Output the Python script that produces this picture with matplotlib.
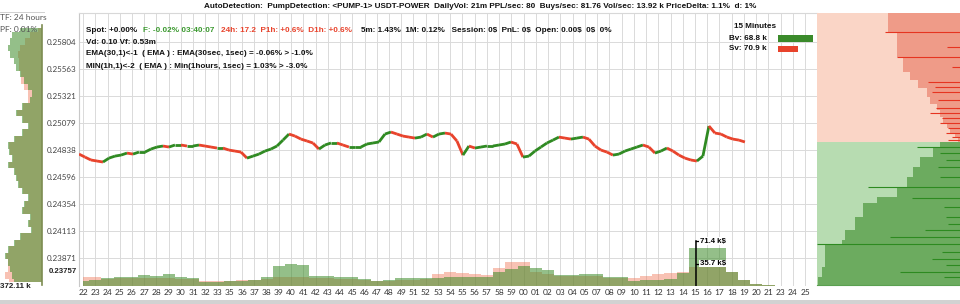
import matplotlib.pyplot as plt
import numpy as np
from matplotlib.collections import LineCollection

# ------------------------------------------------------------------------------
#   Data
# ------------------------------------------------------------------------------

minute_labels = [
    "22", "23", "24", "25", "26", "27", "28", "29", "30", "31", "32", "33",
    "35", "36", "37", "38", "39", "40", "41", "42", "43", "44", "45", "46",
    "47", "48", "49", "51", "52", "53", "54", "55", "56", "57", "58", "59",
    "00", "01", "02", "03", "04", "05", "07", "08", "09", "10", "11", "12",
    "13", "14", "15", "16", "17", "18", "19", "20", "21", "23", "24", "25",
]

# Last price, sampled evenly from the first candle (x=-0.33) to the last (x=54.08)
price = [
    0.24802, 0.24775, 0.24749, 0.24740, 0.24731, 0.24766, 0.24784, 0.24793,
    0.24811, 0.24802, 0.24820, 0.24820, 0.24847, 0.24865, 0.24874, 0.24865,
    0.24883, 0.24883, 0.24874, 0.24874, 0.24883, 0.24874, 0.24865, 0.24856,
    0.24856, 0.24838, 0.24829, 0.24820, 0.24766, 0.24784, 0.24802, 0.24829,
    0.24847, 0.24874, 0.24927, 0.24981, 0.24963, 0.24936, 0.24919, 0.24901,
    0.24847, 0.24883, 0.24901, 0.24901, 0.24883, 0.24865, 0.24865, 0.24865,
    0.24892, 0.24901, 0.24910, 0.24981, 0.24999, 0.24981, 0.24963, 0.24954,
    0.24945, 0.24954, 0.24981, 0.24954, 0.24981, 0.24990, 0.24981, 0.24919,
    0.24793, 0.24874, 0.24856, 0.24865, 0.24874, 0.24874, 0.24883, 0.24892,
    0.24910, 0.24892, 0.24775, 0.24784, 0.24829, 0.24865, 0.24901, 0.24927,
    0.24954, 0.24945, 0.24936, 0.24945, 0.24954, 0.24936, 0.24874, 0.24838,
    0.24820, 0.24793, 0.24802, 0.24829, 0.24847, 0.24865, 0.24883, 0.24865,
    0.24811, 0.24829, 0.24856, 0.24829, 0.24793, 0.24766, 0.24749, 0.24740,
    0.24784, 0.25053, 0.24990, 0.24981, 0.24954, 0.24936, 0.24927, 0.24910,
]
price_start, price_end = -0.33, 54.08

price_ticks = [0.25804, 0.25563, 0.25321, 0.25079, 0.24838,
               0.24596, 0.24354, 0.24113, 0.23871]
price_low = 0.23757

# Volume per minute [k$]
buy_vol = [
    7.9, 9.5, 12.7, 14.3, 14.3, 17.5, 15.9, 19.0, 14.3, 12.7,
    6.3, 6.3, 7.9, 7.9, 9.5, 14.3, 31.7, 34.9, 33.3, 15.9,
    15.9, 14.3, 14.3, 11.1, 7.9, 9.5, 12.7, 12.7, 12.7, 12.7,
    14.3, 14.3, 14.3, 14.3, 22.2, 27.0, 31.7, 28.6, 25.4, 17.5,
    17.5, 19.0, 19.0, 14.3, 14.3, 7.9, 9.5, 9.5, 11.1, 20.6,
    60.3, 60.3, 60.3, 22.2, 9.5, 3.2, 1.6, 0, 0, 0,
]
sell_vol = [
    14.3, 14.3, 11.1, 12.7, 12.7, 12.7, 12.7, 12.7, 11.1, 11.1,
    7.9, 7.9, 7.9, 9.5, 9.5, 11.1, 14.3, 14.3, 14.3, 12.7,
    12.7, 11.1, 11.1, 9.5, 7.9, 7.9, 9.5, 9.5, 11.1, 19.0,
    22.2, 20.6, 19.0, 17.5, 28.6, 38.1, 38.1, 22.2, 19.0, 15.9,
    15.9, 15.9, 15.9, 12.7, 12.7, 12.7, 15.9, 19.0, 20.6, 22.2,
    30.2, 30.2, 30.2, 22.2, 9.5, 3.2, 1.6, 0, 0, 0,
]
vol_scale = [71.4, 35.7]

# 24h volume profile, top bin to bottom bin [k]
profile_buy = [
    195, 266, 284, 301, 284, 248, 230, 195, 160, 124,
    89, 106, 177, 230, 177, 124, 177, 248, 301, 292,
    266, 301, 248, 230, 213, 177, 124, 160, 177, 106,
    124, 97, 195, 248, 301, 328, 301, 284, 266, 248,
]
profile_sell = [
    35, 106, 151, 195, 213, 200, 200, 190, 190, 160,
    125, 120, 165, 222, 170, 118, 170, 238, 292, 284,
    257, 290, 239, 220, 205, 170, 115, 152, 170, 100,
    118, 90, 185, 238, 290, 318, 301, 300, 330, 290,
]
profile_max = 372.11

# Order book depth (cumulative), price edges low -> high
ask_edges = [0.24910, 0.24945, 0.24990, 0.25035, 0.25079, 0.25133, 0.25196,
             0.25249, 0.25312, 0.25392, 0.25464, 0.25535, 0.25669, 0.25893,
             0.26063]
ask_depth = [2, 5, 10, 13, 17, 20, 23, 30, 33, 42, 50, 57, 63, 72]
bid_edges = [0.23631, 0.23703, 0.23792, 0.23989, 0.24033, 0.24123, 0.24239,
             0.24364, 0.24418, 0.24507, 0.24597, 0.24686, 0.24775, 0.24856,
             0.24910]
bid_depth = [142, 138, 135, 118, 115, 105, 97, 83, 63, 53, 47, 40, 27, 20]

# Single large orders
ask_order_price = [0.25893, 0.25759, 0.25669, 0.25580, 0.25446, 0.25401,
                   0.25357, 0.25285, 0.25214, 0.25169, 0.25124, 0.25079,
                   0.25035, 0.24990, 0.24954, 0.24927]
ask_order_size = [75, 13, 63, 8, 32, 25, 28, 22, 24, 30, 18, 20, 12, 14, 8, 12]
bid_order_price = [0.24865, 0.24811, 0.24749, 0.24686, 0.24597, 0.24507,
                   0.24409, 0.24328, 0.24239, 0.24176, 0.24123, 0.24060,
                   0.23998, 0.23926, 0.23864, 0.23810, 0.23747, 0.23703]
bid_order_size = [43, 20, 14, 22, 20, 92, 48, 16, 14, 12, 35, 70, 143, 18,
                  28, 14, 60, 16]
mid_price = 0.24910

# ------------------------------------------------------------------------------
#   Layout helpers (pixel coordinates of a 960 x 304 figure)
# ------------------------------------------------------------------------------

W, H = 960, 304
plt.rcParams["font.family"] = ["Lato", "DejaVu Sans"]
BOLD_FONT = ["Liberation Sans", "DejaVu Sans"]

fig = plt.figure(figsize=(W / 100, H / 100), dpi=100)
fig.patch.set_facecolor("white")


def ax_px(x0, y0, x1, y1):
    return fig.add_axes([x0 / W, 1 - y1 / H, (x1 - x0) / W, (y1 - y0) / H])


def text_px(x, y, s, **kw):
    kw.setdefault("va", "center")
    return fig.text(x / W, 1 - y / H, s, **kw)


GREEN = "#2f8a22"
RED = "#e8432c"
BUY_FILL = (0.235, 0.55, 0.157)
SELL_FILL = (0.94, 0.47, 0.35)

# ------------------------------------------------------------------------------
#   Main price chart
# ------------------------------------------------------------------------------

ax = ax_px(79, 13, 817, 286)
ax.set_xlim(-0.33, 59.97)
ax.set_ylim(0.23623, 0.26063)

x_price = np.linspace(price_start, price_end, len(price))
pts = np.column_stack([x_price, price])
segs = np.stack([pts[:-1], pts[1:]], axis=1)
seg_colors = [GREEN if price[k + 1] >= price[k] else RED
              for k in range(len(price) - 1)]
ax.add_collection(LineCollection(segs, colors=seg_colors, linewidths=2.0,
                                 capstyle="butt", zorder=3))

ax.set_xticks(range(len(minute_labels)))
ax.set_xticklabels(minute_labels, fontsize=6, color="#333333")
ax.set_yticks(price_ticks)
ax.set_yticklabels([f"{p:.5f}" for p in price_ticks], fontsize=5.8,
                   color="#444444")
ax.tick_params(length=0, pad=2)
ax.tick_params(axis="x", pad=2.5)
ax.grid(True, color="#dadada", lw=0.7)
ax.set_axisbelow(True)
for side in ["right", "bottom"]:
    ax.spines[side].set_visible(False)
ax.spines["left"].set_color("#c8c8c8")
ax.spines["top"].set_color("#d8d8d8")
ax.text(-2 / 738, price_low, f"{price_low:.5f}", transform=ax.get_yaxis_transform(),
        ha="right", va="center", fontsize=5.6, fontweight="bold", color="#222222",
        family=BOLD_FONT)

# Volume on a twin axis
axv = ax.twinx()
axv.set_ylim(0, 71.4 * 273 / 45)
xv = np.arange(len(buy_vol))
axv.fill_between(xv, 0, sell_vol, step="mid", color=SELL_FILL, alpha=0.45, lw=0)
axv.fill_between(xv, 0, buy_vol, step="mid", color=BUY_FILL, alpha=0.55, lw=0)
axv.axis("off")
axv.plot([50.1, 50.1], [0, vol_scale[0]], color="black", lw=1.1)
for v in vol_scale:
    axv.plot([50.1, 50.35], [v, v], color="black", lw=0.9)
    axv.text(50.4, v, f"{v} k\\$", fontsize=5.6, fontweight="bold", va="center",
             ha="left", family=BOLD_FONT,
             bbox=dict(facecolor="white", edgecolor="none", pad=0.3))

# ------------------------------------------------------------------------------
#   Left volume profile
# ------------------------------------------------------------------------------

axl = ax_px(0, 25, 42, 285)
yb = np.arange(len(profile_buy))
axl.fill_betweenx(yb, 0, profile_sell, step="mid", color=SELL_FILL, alpha=0.45, lw=0)
axl.fill_betweenx(yb, 0, profile_buy, step="mid", color=BUY_FILL, alpha=0.55, lw=0)
axl.set_xlim(profile_max, 0)
axl.set_ylim(len(profile_buy) - 0.5, -0.5)
axl.set_xticks([])
axl.set_yticks([])
for side in ["left", "top", "bottom"]:
    axl.spines[side].set_visible(False)
axl.spines["right"].set_color("#7d8c52")
axl.spines["right"].set_linewidth(1.2)
axl.patch.set_alpha(0)

fig.add_artist(plt.Line2D([0, 44 / W], [1 - 12 / H, 1 - 12 / H],
                          color="#d0d0d0", lw=0.7))
text_px(0, 18, "TF: 24 hours", fontsize=6, color="#555555")
text_px(0, 29, "PF: 0.01%", fontsize=6, color="#555555")
text_px(0, 286, "372.11 k", fontsize=5.8, fontweight="bold", color="#222222",
        family=BOLD_FONT)

# ------------------------------------------------------------------------------
#   Right order book depth
# ------------------------------------------------------------------------------

axr = ax_px(817, 13, 960, 285)
axr.set_ylim(0.23631, 0.26063)
axr.set_xlim(143, 0)
axr.axhspan(mid_price, 0.26063, color="#fad5c6", lw=0)
axr.axhspan(0.23631, mid_price, color="#b7dcb1", lw=0)
axr.stairs(ask_depth, ask_edges, orientation="horizontal", fill=True,
           color="#ef9b88", baseline=0)
axr.stairs(bid_depth, bid_edges, orientation="horizontal", fill=True,
           color="#6cab5f", baseline=0)
axr.hlines(ask_order_price, 0, ask_order_size, color="#e63420", lw=0.8)
axr.hlines(bid_order_price, 0, bid_order_size, color="#2d8a20", lw=0.8)
axr.set_xticks([])
axr.set_yticks([])
for side in ["left", "top", "right"]:
    axr.spines[side].set_visible(False)
axr.spines["bottom"].set_color("#5aa050")

# ------------------------------------------------------------------------------
#   Texts
# ------------------------------------------------------------------------------

info_kw = dict(fontsize=5.85, fontweight="bold", family=BOLD_FONT)

text_px(204, 6, "AutoDetection:  PumpDetection: <PUMP-1> USDT-POWER  DailyVol: 21m "
        "PPL/sec: 80  Buys/sec: 81.76 Vol/sec: 13.92 k PriceDelta: 1.1%  d: 1%",
        color="#111111", **info_kw)

text_px(86, 31, "Spot: +0.00%", color="#111111", **info_kw)
text_px(143, 31, "F: -0.02% 03:40:07", color="#3c9a30", **info_kw)
text_px(221, 31, "24h: 17.2  P1h: +0.6%  D1h: +0.6%", color="#e8432c", **info_kw)
text_px(361, 31, "5m: 1.43%  1M: 0.12%   Session: 0\\$  PnL: 0\\$  Open: 0.00\\$  0\\$  0%",
        color="#111111", **info_kw)
text_px(86, 42, "Vd: 0.10 Vf: 0.53m", color="#111111", **info_kw)
text_px(86, 54, "EMA(30,1)<-1  ( EMA ) : EMA(30sec, 1sec) = -0.06% > -1.0%",
        color="#111111", **info_kw)
text_px(86, 66, "MIN(1h,1)<-2  ( EMA ) : Min(1hours, 1sec) = 1.03% > -3.0%",
        color="#111111", **info_kw)

# 15 minute legend
text_px(755, 27, "15 Minutes", ha="center", color="#111111", **info_kw)
text_px(729, 38, "Bv: 68.8 k", color="#111111", **info_kw)
text_px(729, 49, "Sv: 70.9 k", color="#111111", **info_kw)
fig.add_artist(plt.Rectangle((778 / W, 1 - 42 / H), 35 / W, 7 / H,
                             color="#3a8a2a", lw=0))
fig.add_artist(plt.Rectangle((778 / W, 1 - 52 / H), 20 / W, 6 / H,
                             color="#e8432c", lw=0))

# Window frame at the bottom
fig.add_artist(plt.Rectangle((0, 0), 1, 4 / H, color="#d2d2d2", lw=0))

fig.savefig("out.png", dpi=100)
